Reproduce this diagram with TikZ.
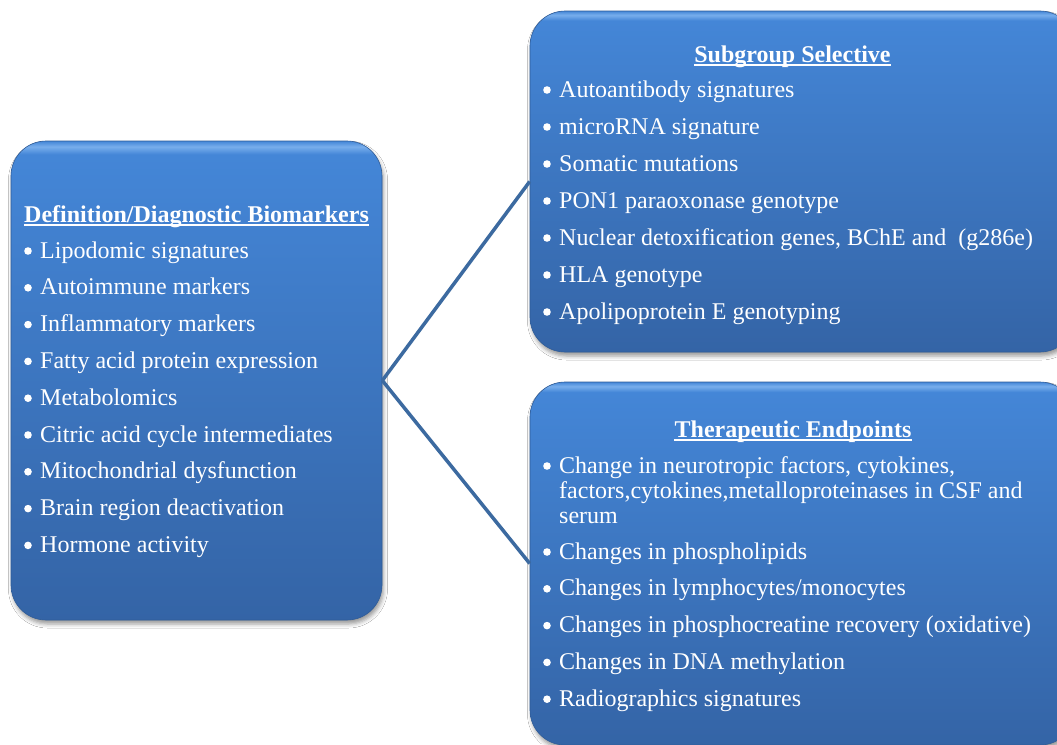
\documentclass[tikz,border=0pt]{standalone}
\usepackage{fontspec}
\setmainfont{Liberation Serif}
\usetikzlibrary{shadows.blur}
\definecolor{boxtop}{HTML}{4486D7}
\definecolor{boxbot}{HTML}{3464A6}
\definecolor{boxhl}{HTML}{78AEEC}
\definecolor{boxedge}{HTML}{2F5C98}
\definecolor{linkc}{HTML}{3C6AA0}
\pgfdeclareverticalshading{boxshade}{100bp}{color(0bp)=(boxbot); color(25bp)=(boxbot); color(73.6bp)=(boxtop); color(74.4bp)=(boxhl); color(75bp)=(boxtop); color(100bp)=(boxtop)}
\newcommand\itembul{\makebox[16pt][l]{\tikz[baseline=0pt]\fill[white] (3.8pt,7pt) circle (3.8pt);}}
\tikzset{
  panel/.style={rectangle, rounded corners=35pt, shading=boxshade, draw=boxedge, line width=0.6pt,
    blur shadow={shadow xshift=1.5pt, shadow yshift=-4pt, shadow blur radius=4pt, shadow opacity=40}, inner sep=0pt},
  txt/.style={anchor=base west, inner sep=0pt, text=white, font=\fontsize{24}{25}\selectfont},
  head/.style={anchor=base, inner sep=0pt, text=white, font=\fontsize{24}{25}\selectfont\bfseries},
  uline/.style={draw=white, line width=1.3pt},
  link/.style={draw=linkc, line width=3.5pt}
}
\begin{document}
\begin{tikzpicture}[x=1pt,y=-1pt]
\clip (0,0) rectangle (1057,744);
\fill[white] (0,0) rectangle (1057,744);
% panels
\node[panel, minimum width=371pt, minimum height=479pt] (L) at (196.5,380.5) {};
\node[panel, minimum width=545pt, minimum height=341pt] (S) at (802.5,181.5) {};
\node[panel, minimum width=545pt, minimum height=363pt] (T) at (802.5,563.5) {};
% connectors
\draw[link] (L.east) -- (S.west);
\draw[link] (L.east) -- (T.west);
% left panel
\node[head] (hL) at (196.5,222) {Definition/Diagnostic Biomarkers};
\draw[uline] ([yshift=-3pt]hL.base west) -- ([yshift=-3pt]hL.base east);
\foreach \t [count=\i] in {Lipodomic signatures, Autoimmune markers, Inflammatory markers,
  Fatty acid protein expression, Metabolomics, Citric acid cycle intermediates,
  Mitochondrial dysfunction, Brain region deactivation, Hormone activity}
  \node[txt] (l\i) at (24,{258+36.8*(\i-1)}) {\itembul\t};
% subgroup panel
\node[head] (hS) at (792.5,62) {Subgroup Selective};
\draw[uline] ([yshift=-3pt]hS.base west) -- ([yshift=-3pt]hS.base east);
\foreach \t [count=\i] in {Autoantibody signatures, microRNA signature, Somatic mutations,
  PON1 paraoxonase genotype, {Nuclear detoxification genes, BChE and\ \ (g286e)},
  HLA genotype, Apolipoprotein E genotyping}
  \node[txt] (s\i) at (543,{97+37*(\i-1)}) {\itembul\t};
% therapeutic panel
\node[head] (hT) at (793,437) {Therapeutic Endpoints};
\draw[uline] ([yshift=-3pt]hT.base west) -- ([yshift=-3pt]hT.base east);
\node[txt] (t1) at (543,473) {\itembul Change in neurotropic factors, cytokines,};
\node[txt] (t1b) at (559,498) {factors,cytokines,metalloproteinases in CSF and};
\node[txt] (t1c) at (559,523) {serum};
\foreach \t [count=\i] in {Changes in phospholipids, Changes in lymphocytes/monocytes,
  Changes in phosphocreatine recovery (oxidative), Changes in DNA methylation,
  Radiographics signatures}
  \node[txt] (t\i x) at (543,{559+36.8*(\i-1)}) {\itembul\t};
\end{tikzpicture}
\end{document}
